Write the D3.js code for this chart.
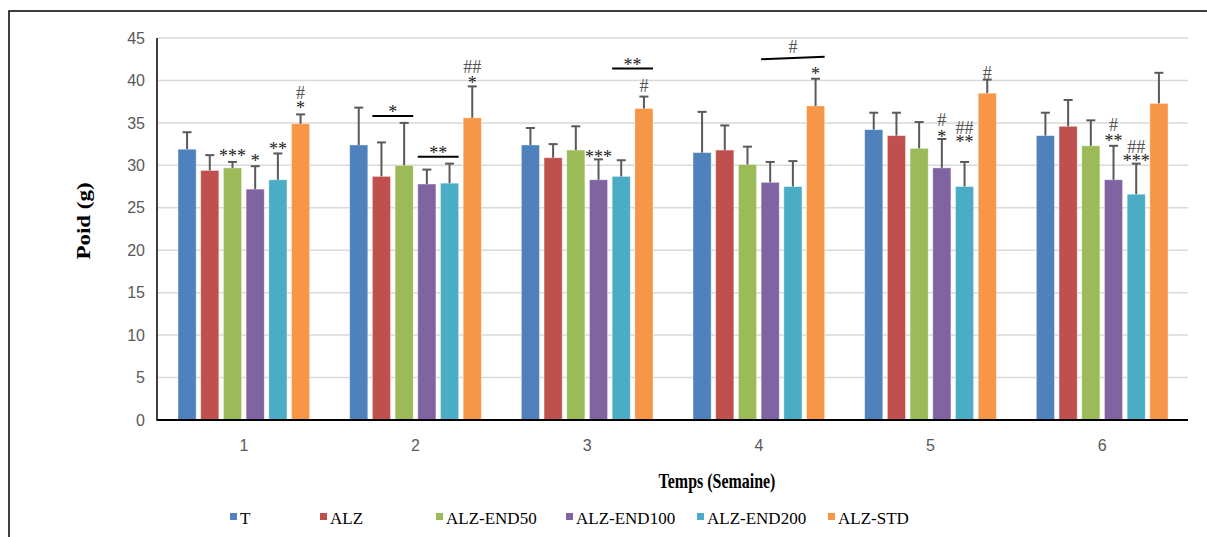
<!DOCTYPE html>
<html>
<head>
<meta charset="utf-8">
<script src="https://cdn.jsdelivr.net/npm/d3@7/dist/d3.min.js"></script>
<style>
  body { margin: 0; background: #fff; }
  svg { display: block; }
</style>
</head>
<body>
<svg width="1207" height="537"></svg>
<script>
const weeks = ['1', '2', '3', '4', '5', '6'];
const groups = ['T', 'ALZ', 'ALZ-END50', 'ALZ-END100', 'ALZ-END200', 'ALZ-STD'];
const colors = ['#4f81bd', '#c0504d', '#9bbb59', '#8064a2', '#4bacc6', '#f79646'];
const yTicks = [0, 5, 10, 15, 20, 25, 30, 35, 40, 45];

// mean weight (g), one row per group, one value per week
const means = [
  [31.9, 32.4, 32.4, 31.5, 34.2, 33.5],
  [29.4, 28.7, 30.9, 31.8, 33.5, 34.6],
  [29.7, 30.0, 31.8, 30.1, 32.0, 32.3],
  [27.2, 27.8, 28.3, 28.0, 29.7, 28.3],
  [28.3, 27.9, 28.7, 27.5, 27.5, 26.6],
  [34.9, 35.6, 36.7, 37.0, 38.5, 37.3],
];
const sds = [
  [2.0, 4.4, 2.0, 4.8, 2.0, 2.7],
  [1.8, 4.0, 1.6, 2.9, 2.7, 3.1],
  [0.7, 5.0, 2.8, 2.1, 3.1, 3.0],
  [2.7, 1.7, 2.4, 2.4, 3.4, 4.0],
  [3.1, 2.3, 1.9, 3.0, 2.9, 3.6],
  [1.1, 3.7, 1.4, 3.2, 1.6, 3.6],
];

// significance marks over single bars: [week, group, text, level (g)]
const marks = [
  [0, 2, '***', 30.4], [0, 3, '*', 29.8], [0, 4, '**', 31.2],
  [0, 5, '*', 36.0], [0, 5, '#', 37.8],
  [1, 5, '*', 39.0], [1, 5, '##', 40.9],
  [2, 3, '***', 30.3], [2, 5, '#', 38.6],
  [3, 5, '*', 40.0],
  [4, 3, '*', 32.6], [4, 3, '#', 34.6], [4, 4, '**', 32.0], [4, 4, '##', 33.7],
  [4, 5, '#', 40.2],
  [5, 3, '**', 32.2], [5, 3, '#', 34.0], [5, 4, '***', 29.8], [5, 4, '##', 31.4],
];
// brackets between two bars: [week, from group, to group, line level left, right, text, text level]
const brackets = [
  [1, 1, 2, 35.8, 35.8, '*', 35.6],
  [1, 3, 4, 31.0, 31.0, '**', 30.8],
  [2, 4, 5, 41.4, 41.4, '**', 41.1],
  [3, 3, 5, 42.5, 42.8, '#', 43.2],
];

const svg = d3.select('svg');
const margin = {left: 158, right: 1188, top: 38, bottom: 420};
const serif = 'Liberation Serif, Times New Roman, serif';
const sans = 'Liberation Sans, Arial, sans-serif';

svg.append('rect')
  .attr('x', 9).attr('y', 11).attr('width', 1220).attr('height', 560)
  .attr('fill', 'none').attr('stroke', '#000').attr('stroke-width', 1.5);

const x0 = d3.scaleBand().domain(weeks).range([margin.left, margin.right]);
const x1 = d3.scaleBand().domain(d3.range(groups.length))
  .range([20, x0.bandwidth() - 20]).paddingInner(0.2);
const y = d3.scaleLinear().domain([0, 45]).range([margin.bottom, margin.top]);

// gridlines
svg.append('g').selectAll('line').data(yTicks.slice(1)).join('line')
  .attr('x1', margin.left).attr('x2', margin.right)
  .attr('y1', d => y(d)).attr('y2', d => y(d))
  .attr('stroke', '#d9d9d9').attr('stroke-width', 1.5);

// y axis
const yAxis = svg.append('g')
  .attr('transform', 'translate(' + (margin.left - 1) + ',0)')
  .call(d3.axisLeft(y).tickValues(yTicks).tickSize(0).tickPadding(12));
yAxis.select('.domain').remove();
yAxis.selectAll('text')
  .attr('font-family', sans).attr('font-size', 16).attr('fill', '#595959');
svg.append('line')
  .attr('x1', margin.left - 1).attr('x2', margin.left - 1)
  .attr('y1', margin.top).attr('y2', margin.bottom)
  .attr('stroke', '#000').attr('stroke-width', 1.5);

// bars
const cells = [];
groups.forEach((g, gi) => weeks.forEach((w, wi) => {
  cells.push({gi, wi, mean: means[gi][wi], sd: sds[gi][wi]});
}));
const barX = (wi, gi) => x0(weeks[wi]) + x1(gi);

svg.append('g').selectAll('rect').data(cells).join('rect')
  .attr('x', d => barX(d.wi, d.gi))
  .attr('y', d => y(d.mean))
  .attr('width', x1.bandwidth())
  .attr('height', d => y(0) - y(d.mean))
  .attr('fill', d => colors[d.gi])
  .attr('stroke', '#fff').attr('stroke-opacity', 0.5).attr('stroke-width', 0.8);

// error bars
const err = svg.append('g').attr('stroke', '#595959').attr('stroke-width', 2);
err.selectAll('line.v').data(cells).join('line').attr('class', 'v')
  .attr('x1', d => barX(d.wi, d.gi) + x1.bandwidth() / 2)
  .attr('x2', d => barX(d.wi, d.gi) + x1.bandwidth() / 2)
  .attr('y1', d => y(d.mean)).attr('y2', d => y(d.mean + d.sd));
err.selectAll('line.c').data(cells).join('line').attr('class', 'c')
  .attr('x1', d => barX(d.wi, d.gi) + x1.bandwidth() / 2 - 4.5)
  .attr('x2', d => barX(d.wi, d.gi) + x1.bandwidth() / 2 + 4.5)
  .attr('y1', d => y(d.mean + d.sd)).attr('y2', d => y(d.mean + d.sd));

// x axis
svg.append('line')
  .attr('x1', margin.left - 1.5).attr('x2', margin.right)
  .attr('y1', margin.bottom).attr('y2', margin.bottom)
  .attr('stroke', '#000').attr('stroke-width', 2);
const xAxis = svg.append('g')
  .attr('transform', 'translate(0,' + margin.bottom + ')')
  .call(d3.axisBottom(x0).tickSize(0).tickPadding(20));
xAxis.select('.domain').remove();
xAxis.selectAll('text')
  .attr('font-family', sans).attr('font-size', 16).attr('fill', '#595959');

// significance marks
svg.append('g').selectAll('text').data(marks).join('text')
  .attr('x', d => barX(d[0], d[1]) + x1.bandwidth() / 2)
  .attr('y', d => y(d[3]))
  .attr('text-anchor', 'middle')
  .attr('font-family', serif).attr('font-size', 18)
  .attr('fill', d => d[2][0] === '#' ? '#555' : '#222')
  .text(d => d[2]);

const br = svg.append('g');
brackets.forEach(([wi, a, b, l1, l2, t, tl]) => {
  const xa = barX(wi, a), xb = barX(wi, b) + x1.bandwidth();
  br.append('line')
    .attr('x1', xa).attr('x2', xb).attr('y1', y(l1)).attr('y2', y(l2))
    .attr('stroke', '#000').attr('stroke-width', 2);
  br.append('text')
    .attr('x', (xa + xb) / 2).attr('y', y(tl))
    .attr('text-anchor', 'middle')
    .attr('font-family', serif).attr('font-size', 18)
    .attr('fill', t[0] === '#' ? '#555' : '#222')
    .text(t);
});

// axis titles (narrow, like the squeezed original)
svg.append('text')
  .attr('transform', 'translate(90,' + ((margin.top + margin.bottom) / 2 - 8) + ') scale(0.8,1) rotate(-90)')
  .attr('text-anchor', 'middle')
  .attr('font-family', serif).attr('font-weight', 'bold').attr('font-size', 23)
  .text('Poid (g)');
svg.append('text')
  .attr('transform', 'translate(717,488) scale(0.76,1)')
  .attr('text-anchor', 'middle')
  .attr('font-family', serif).attr('font-weight', 'bold').attr('font-size', 21)
  .text('Temps (Semaine)');

// legend
const legendX = [0, 90, 206, 336, 467, 598];
const legend = svg.append('g').attr('transform', 'translate(230,518)');
groups.forEach((g, i) => {
  const item = legend.append('g').attr('transform', 'translate(' + legendX[i] + ',0)');
  item.append('rect').attr('x', 0).attr('y', -5).attr('width', 7).attr('height', 7)
    .attr('fill', colors[i]);
  item.append('text').attr('x', 10).attr('y', 6)
    .attr('font-family', serif).attr('font-size', 17).attr('fill', '#000')
    .text(g);
});
</script>
</body>
</html>
